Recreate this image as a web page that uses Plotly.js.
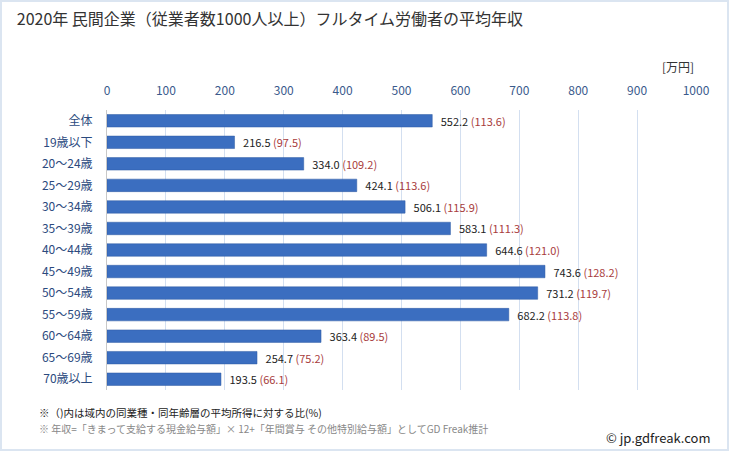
<!DOCTYPE html>
<html>
<head>
<meta charset="utf-8">
<script src="https://cdn.plot.ly/plotly-3.0.1.min.js"></script>
<style>
html,body{margin:0;padding:0;background:#fff;}
#wrap{position:relative;width:729px;height:451px;}
#chart{width:729px;height:451px;}
#frame{position:absolute;left:0;top:0;width:729px;height:451px;box-sizing:border-box;border:2px solid #dbe5f1;pointer-events:none;}
</style>
</head>
<body>
<div id="wrap"><div id="chart"></div><div id="frame"></div></div>
<script>
const categories = ["全体","19歳以下","20～24歳","25～29歳","30～34歳","35～39歳","40～44歳","45～49歳","50～54歳","55～59歳","60～64歳","65～69歳","70歳以上"];
const incomes = [552.2,216.5,334.0,424.1,506.1,583.1,644.6,743.6,731.2,682.2,363.4,254.7,193.5];
const ratios = [113.6,97.5,109.2,113.6,115.9,111.3,121.0,128.2,119.7,113.8,89.5,75.2,66.1];
const tickVals = [0,100,200,300,400,500,600,700,800,900,1000];

const font = '"Noto Sans CJK JP", "Noto Sans", sans-serif';
const labels = incomes.map((v,i)=> '\u2002' + v.toFixed(1) + ' <span style="color:#a83c3c">(' + ratios[i].toFixed(1) + ')</span>');

const trace = {
  type:'bar', orientation:'h',
  y: categories, x: incomes,
  width: 0.58,
  marker:{color:'#3b6ec0', line:{color:'#2f5aa3', width:0.5}},
  text: labels, textposition:'outside', cliponaxis:false, constraintext:'none',
  textfont:{family:font, size:11, color:'#222'},
  hoverinfo:'skip'
};

const layout = {
  width:729, height:451,
  margin:{l:107, r:33, t:110, b:61},
  paper_bgcolor:'#ffffff', plot_bgcolor:'#ffffff',
  showlegend:false,
  title:{text:'2020年 民間企業（従業者数1000人以上）フルタイム労働者の平均年収', x:0.023, xanchor:'left', y:0.958, yanchor:'middle', font:{family:font, size:16, color:'#333'}},
  xaxis:{side:'top', range:[0,1000], tickvals:tickVals, ticktext:tickVals.map(String),
    showgrid:true, gridcolor:'#d3dff0', gridwidth:1, zeroline:false, showline:false,
    ticks:'', ticklen:0, ticklabelstandoff:12, tickfont:{family:font, size:12, color:'#3a5a8c'}, fixedrange:true},
  yaxis:{type:'category', autorange:'reversed', showgrid:false, zeroline:false,
    showline:true, linecolor:'#c8c8c8', linewidth:1, ticks:'', ticklabelstandoff:11,
    tickfont:{family:font, size:12, color:'#2b4a7e'}, fixedrange:true},
  annotations:[
    {text:'[万円]', xref:'paper', yref:'paper', x:1.0, y:1.0 + 44/280, xanchor:'right', yanchor:'middle', showarrow:false, font:{family:font, size:12, color:'#333'}},
    {text:'※（)内は域内の同業種・同年齢層の平均所得に対する比(%)', xref:'paper', yref:'paper', x:-70/589, y:-22/280, xanchor:'left', yanchor:'middle', showarrow:false, font:{family:font, size:10.5, color:'#222'}},
    {text:'※ 年収=「きまって支給する現金給与額」× 12+「年間賞与 その他特別給与額」としてGD Freak推計', xref:'paper', yref:'paper', x:-70/589, y:-38/280, xanchor:'left', yanchor:'middle', showarrow:false, font:{family:font, size:10, color:'#888'}},
    {text:'© jp.gdfreak.com', xref:'paper', yref:'paper', x:1.0+17/589, y:-47/280, xanchor:'right', yanchor:'middle', showarrow:false, font:{family:font, size:13, color:'#222'}}
  ]
};

Plotly.newPlot('chart', [trace], layout, {displayModeBar:false, staticPlot:true});
</script>
</body>
</html>
